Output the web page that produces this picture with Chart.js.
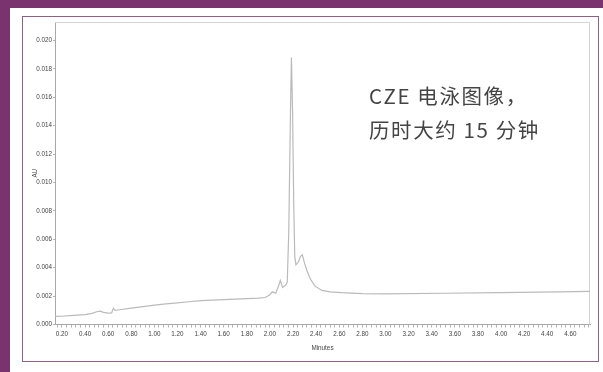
<!DOCTYPE html>
<html>
<head>
<meta charset="utf-8">
<script src="https://cdn.jsdelivr.net/npm/chart.js@4"></script>
<style>
  html, body { margin: 0; padding: 0; width: 603px; height: 372px; overflow: hidden; background: #7b3370; }
  #panel { position: absolute; left: 10px; top: 8px; width: 593px; height: 364px; background: #fff; }
  #card { position: absolute; left: 22px; top: 16px; width: 577px; height: 346px; box-sizing: border-box; border: 1.5px solid #8e5f88; }
  #wrap { position: absolute; left: 0; top: 0; width: 603px; height: 372px; }
  #note { position: absolute; left: 369px; top: 79px; font-family: "Noto Sans CJK SC", "Noto Sans", sans-serif;
          font-size: 20.5px; line-height: 33.5px; letter-spacing: 1.6px; color: #444; white-space: nowrap; }
</style>
</head>
<body>
<div id="panel"></div>
<div id="card"></div>
<div id="wrap"><canvas id="c" width="603" height="372"></canvas></div>
<div id="note">CZE 电泳图像，<br>历时大约 15 分钟</div>
<script>
// Electropherogram trace: migration time (minutes) and detector response (AU)
const times = [
  0.14, 0.20, 0.30, 0.40, 0.46, 0.50, 0.53, 0.56, 0.60, 0.63, 0.645, 0.66, 0.70,
  0.80, 0.90, 1.00, 1.10, 1.20, 1.30, 1.40, 1.50, 1.60, 1.70, 1.80, 1.90, 1.96,
  2.00, 2.02, 2.05, 2.07, 2.09, 2.11, 2.14, 2.150, 2.163, 2.176, 2.186, 2.196,
  2.206, 2.215, 2.225, 2.245, 2.265, 2.28, 2.30, 2.32, 2.35, 2.39, 2.45, 2.52,
  2.62, 2.80, 3.00, 3.50, 4.00, 4.50, 4.77
];
const absorbance = [
  0.00057, 0.00058, 0.00064, 0.00070, 0.00078, 0.00090, 0.00094, 0.00085, 0.00080, 0.00082, 0.00115, 0.00100, 0.00104,
  0.00115, 0.00126, 0.00136, 0.00145, 0.00152, 0.00160, 0.00168, 0.00172, 0.00175, 0.00178, 0.00182, 0.00186, 0.00190,
  0.00210, 0.00230, 0.00220, 0.00260, 0.00310, 0.00260, 0.00280, 0.00300, 0.00650, 0.01400, 0.01880, 0.01500,
  0.00850, 0.00480, 0.00420, 0.00440, 0.00480, 0.00490, 0.00430, 0.00380, 0.00320, 0.00270, 0.00240, 0.00230,
  0.00224, 0.00218, 0.00216, 0.00220, 0.00225, 0.00230, 0.00233
];

const xTickLabels = ['0.20','0.40','0.60','0.80','1.00','1.20','1.40','1.60','1.80','2.00','2.20','2.40',
                     '2.60','2.80','3.00','3.20','3.40','3.60','3.80','4.00','4.20','4.40','4.60'];
const yTickLabels = ['0.000','0.002','0.004','0.006','0.008','0.010','0.012','0.014','0.016','0.018','0.020'];
const xTitle = 'Minutes';
const yTitle = 'AU';

const tickFont = { family: '"Liberation Sans Narrow", "Liberation Sans", sans-serif', size: 6.3 };
const inkColor = '#444444';
const axisColor = '#a8a8a8';

// light frame on the top and right of the plot area
const framePlugin = {
  id: 'frame',
  beforeDatasetsDraw(chart) {
    const { ctx, chartArea: a } = chart;
    ctx.save();
    ctx.strokeStyle = '#d4d4d4';
    ctx.lineWidth = 1;
    ctx.beginPath();
    ctx.moveTo(a.left, a.top + 0.5);
    ctx.lineTo(a.right - 0.5, a.top + 0.5);
    ctx.lineTo(a.right - 0.5, a.bottom);
    ctx.stroke();
    ctx.restore();
  }
};

new Chart(document.getElementById('c'), {
  type: 'line',
  data: {
    datasets: [{
      data: times.map((t, i) => ({ x: t, y: absorbance[i] })),
      borderColor: '#bababa',
      borderWidth: 1.2,
      pointRadius: 0,
      tension: 0,
      fill: false
    }]
  },
  options: {
    responsive: false,
    devicePixelRatio: 1,
    animation: false,
    layout: { padding: { left: 31.4, top: 22, right: 13, bottom: 20 } },
    plugins: { legend: { display: false }, tooltip: { enabled: false } },
    scales: {
      x: {
        type: 'linear',
        min: 0.14,
        max: 4.77,
        afterBuildTicks(scale) {
          const ticks = [];
          for (let k = 4; k <= 119; k++) ticks.push({ value: k * 0.04 });
          scale.ticks = ticks;
        },
        afterFit(scale) { scale.height = 27.5; },
        ticks: {
          autoSkip: false,
          maxRotation: 0,
          minRotation: 0,
          padding: 3,
          color: inkColor,
          font: tickFont,
          callback(value) {
            const s = value.toFixed(2);
            return xTickLabels.includes(s) ? s : '';
          }
        },
        grid: { drawOnChartArea: false, drawTicks: true, tickLength: 3, tickColor: '#b5b5b5' },
        border: { display: true, color: axisColor, width: 1 },
        title: { display: true, text: xTitle, color: inkColor, font: tickFont, padding: { top: 2, bottom: 0 } }
      },
      y: {
        type: 'linear',
        min: 0,
        max: 0.0213,
        afterBuildTicks(scale) {
          scale.ticks = yTickLabels.map(s => ({ value: parseFloat(s) }));
        },
        afterFit(scale) { scale.width = 23.6; },
        ticks: {
          autoSkip: false,
          padding: 1,
          color: inkColor,
          font: tickFont,
          callback(value, index) { return yTickLabels[index]; }
        },
        grid: { drawOnChartArea: false, drawTicks: true, tickLength: 2, tickColor: '#b5b5b5' },
        border: { display: true, color: axisColor, width: 1 },
        title: { display: true, text: yTitle, color: inkColor, font: tickFont, padding: 0 }
      }
    }
  },
  plugins: [framePlugin]
});
</script>
</body>
</html>
